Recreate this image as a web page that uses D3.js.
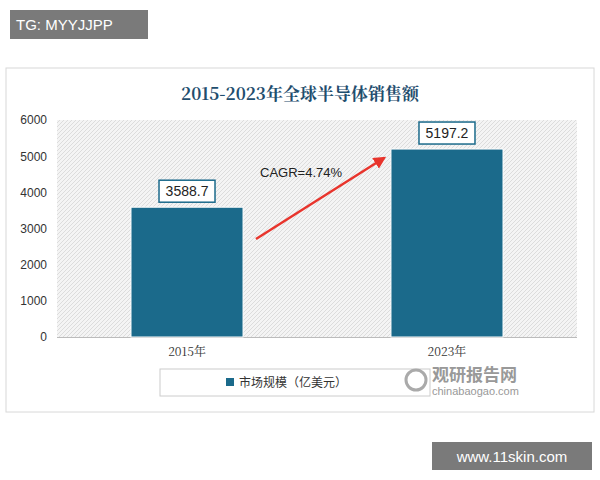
<!DOCTYPE html><html><head><meta charset="utf-8"><script src="https://cdn.jsdelivr.net/npm/d3@7"></script>
<style>body{margin:0;background:#fff}</style></head><body><svg id="c" width="600" height="480"></svg>
<script>
const categories=["2015年","2023年"];
const values=[3588.7,5197.2];
const yTicks=[0,1000,2000,3000,4000,5000,6000];
const title="2015-2023年全球半导体销售额";
const legendLabel="市场规模（亿美元）";
const cagr="CAGR=4.74%";
const svg=d3.select("#c");
const defs=svg.append("defs");
const pat=defs.append("pattern").attr("id","h").attr("patternUnits","userSpaceOnUse").attr("width",4).attr("height",4);
pat.append("rect").attr("width",4).attr("height",4).attr("fill","#f4f4f4");
pat.append("path").attr("d","M0,4L4,0M-1,1L1,-1M3,5L5,3").attr("stroke","#dcdcdc").attr("stroke-width",1);
const mk=defs.append("marker").attr("id","ar").attr("viewBox","0 0 10 10").attr("refX",8).attr("refY",5).attr("markerWidth",5).attr("markerHeight",5).attr("orient","auto");
mk.append("path").attr("d","M0,0L10,5L0,10z").attr("fill","#e8342c");
svg.append("rect").attr("x",6).attr("y",68).attr("width",588).attr("height",344).attr("fill","#fff").attr("stroke","#d8d8d8");
svg.append("text").attr("x",300).attr("y",100).attr("text-anchor","middle").attr("font-family","Noto Serif CJK SC, Noto Sans CJK SC").attr("font-weight","bold").attr("font-size",17).attr("fill","#1f4e6e").text(title);
const x=d3.scaleBand().domain(categories).range([57,577]).paddingInner(0.569).paddingOuter(0.2846);
const y=d3.scaleLinear().domain([0,6000]).range([337,120]);
svg.append("rect").attr("x",57).attr("y",120).attr("width",520).attr("height",217).attr("fill","url(#h)");
const ax=svg.append("g").attr("transform","translate(57,0)").call(d3.axisLeft(y).tickValues(yTicks).tickFormat(d3.format("d")).tickSize(0).tickPadding(10));
ax.select(".domain").remove();
ax.selectAll("text").attr("font-family","Liberation Sans, Arial").attr("font-size",12).attr("fill","#333");
svg.append("line").attr("x1",57).attr("x2",577).attr("y1",337.5).attr("y2",337.5).attr("stroke","#bbb");
const xa=svg.append("g").attr("transform","translate(0,337)").call(d3.axisBottom(x).tickSize(0).tickPadding(10));
xa.select(".domain").remove();
xa.selectAll("text").attr("font-family","Noto Serif CJK SC, Noto Sans CJK SC").attr("font-size",12).attr("fill","#333");
svg.selectAll(".bar").data(values).join("rect").attr("x",(d,i)=>x(categories[i])).attr("width",x.bandwidth()).attr("y",d=>y(d)).attr("height",d=>337-y(d)).attr("fill","#1b6a8b").attr("stroke","#fff").attr("stroke-width",1);
values.forEach((v,i)=>{const cx=x(categories[i])+x.bandwidth()/2,ty=y(v)-16;
svg.append("rect").attr("x",cx-28).attr("y",ty-11).attr("width",56).attr("height",22).attr("fill","#fff").attr("stroke","#1b6a8b").attr("stroke-width",1.5);
svg.append("text").attr("x",cx).attr("y",ty+5).attr("text-anchor","middle").attr("font-family","Liberation Sans, Arial").attr("font-size",14).attr("fill","#222").text(v.toFixed(1));});
svg.append("line").attr("x1",256).attr("y1",239).attr("x2",384).attr("y2",158).attr("stroke","#e8342c").attr("stroke-width",2.5).attr("marker-end","url(#ar)");
svg.append("text").attr("x",260).attr("y",177).attr("font-family","Liberation Sans, Arial").attr("font-size",13).attr("fill","#222").text(cagr);
svg.append("rect").attr("x",160).attr("y",369).attr("width",270).attr("height",27).attr("fill","#fff").attr("stroke","#ccc");
svg.append("rect").attr("x",226).attr("y",378).attr("width",8).attr("height",8).attr("fill","#1b6a8b");
svg.append("text").attr("x",239).attr("y",387).attr("font-family","Noto Sans CJK SC").attr("font-size",12).attr("fill","#333").text(legendLabel);
svg.append("text").attr("x",432).attr("y",381).attr("font-family","Noto Sans CJK SC").attr("font-weight","bold").attr("font-size",17).attr("fill","#999").text("观研报告网");
svg.append("text").attr("x",432).attr("y",395).attr("font-family","Liberation Sans, Arial").attr("font-size",11).attr("fill","#999").text("chinabaogao.com");
svg.append("circle").attr("cx",416).attr("cy",380).attr("r",10).attr("fill","none").attr("stroke","#aaa").attr("stroke-width",3);
svg.append("rect").attr("x",10).attr("y",10).attr("width",138).attr("height",29).attr("fill","#7a7a7a");
svg.append("text").attr("x",16).attr("y",30).attr("font-family","Liberation Sans, Arial").attr("font-size",15).attr("fill","#fff").text("TG: MYYJJPP");
svg.append("rect").attr("x",432).attr("y",442).attr("width",160).attr("height",28).attr("fill","#7a7a7a");
svg.append("text").attr("x",512).attr("y",462).attr("text-anchor","middle").attr("font-family","Liberation Sans, Arial").attr("font-size",15).attr("fill","#fff").text("www.11skin.com");
</script></body></html>
